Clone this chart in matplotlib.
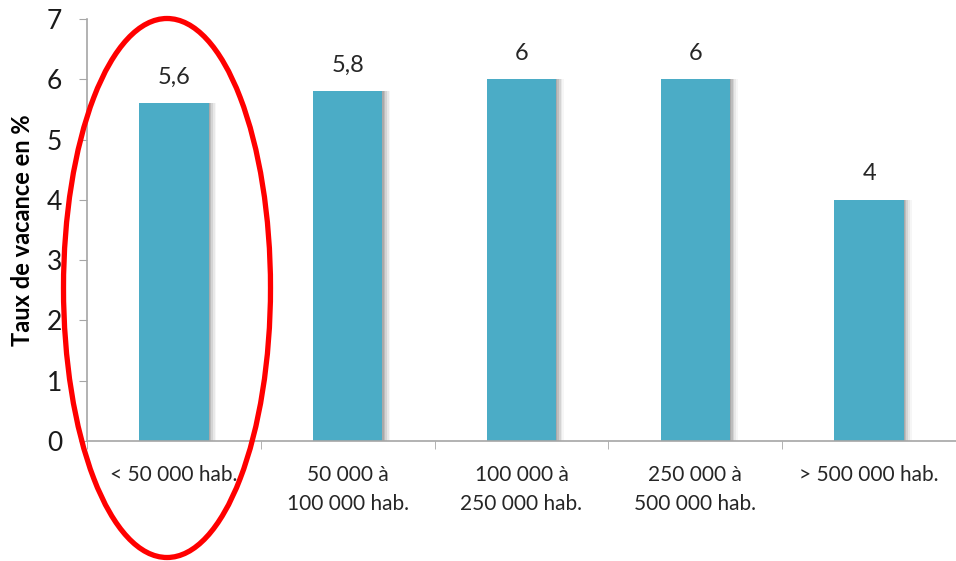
import matplotlib
matplotlib.use("Agg")
import matplotlib.pyplot as plt
from matplotlib.patches import Ellipse
import numpy as np

categories = ["< 50 000 hab.", "50 000 à\n100 000 hab.", "100 000 à\n250 000 hab.",
              "250 000 à\n500 000 hab.", "> 500 000 hab."]
values = [5.6, 5.8, 6, 6, 4]
value_labels = ["5,6", "5,8", "6", "6", "4"]
yticks = [0, 1, 2, 3, 4, 5, 6, 7]

plt.rcParams['font.family'] = ['Lato', 'DejaVu Sans']

W, H = 956, 561
fig = plt.figure(figsize=(W / 100, H / 100), dpi=100)
ax = fig.add_axes([87 / W, (H - 441) / H, (956 - 87) / W, (441 - 19) / H])

x = np.arange(len(categories))
bw = 0.4
# soft shadow to the right of each bar
for dx, a in [(0.045, 0.06), (0.035, 0.10), (0.025, 0.16), (0.015, 0.22), (0.007, 0.25)]:
    ax.bar(x + dx, values, width=bw, color='#6f6f6f', alpha=a, zorder=1, linewidth=0)
ax.bar(x, values, width=bw, color='#4bacc6', zorder=2, linewidth=0)

for xi, v, lab in zip(x, values, value_labels):
    ax.annotate(lab, (xi, v), xytext=(0, 14), textcoords='offset points',
                ha='center', va='baseline', fontsize=17, color='#262626')

ax.set_ylim(0, 7)
ax.set_xlim(-0.5, -0.5 + 869 / 176)
ax.set_yticks(yticks)
ax.set_yticklabels([str(t) for t in yticks], fontsize=19, color='#1a1a1a')
ax.set_xticks(x)
ax.set_xticklabels(categories, fontsize=15, color='#262626', linespacing=1.6)
ax.set_xticks(np.arange(-0.5, len(categories), 1.0), minor=True)
ax.tick_params(axis='x', which='major', length=0, pad=17)
ax.tick_params(axis='x', which='minor', length=6, color='#a6a6a6', direction='out')
ax.tick_params(axis='y', length=6, color='#a6a6a6', direction='out', pad=12)

for s in ['top', 'right']:
    ax.spines[s].set_visible(False)
ax.spines['left'].set_color('#a6a6a6')
ax.spines['bottom'].set_color('#a6a6a6')
ax.spines['left'].set_linewidth(1.2)
ax.spines['bottom'].set_linewidth(1.2)

fig.text(23 / W, 1 - 230 / H, "Taux de vacance en %", rotation=90, ha='center', va='center',
         fontsize=17, fontweight='bold', color='#000000')

# red ellipse highlight (in figure pixel coordinates)
ell = Ellipse((167 / W, 1 - 288 / H), 207 / W, 539 / H, transform=fig.transFigure,
              fill=False, edgecolor='#ff0000', linewidth=3.8, clip_on=False, zorder=10)
fig.add_artist(ell)

fig.savefig("out.png", dpi=100)
